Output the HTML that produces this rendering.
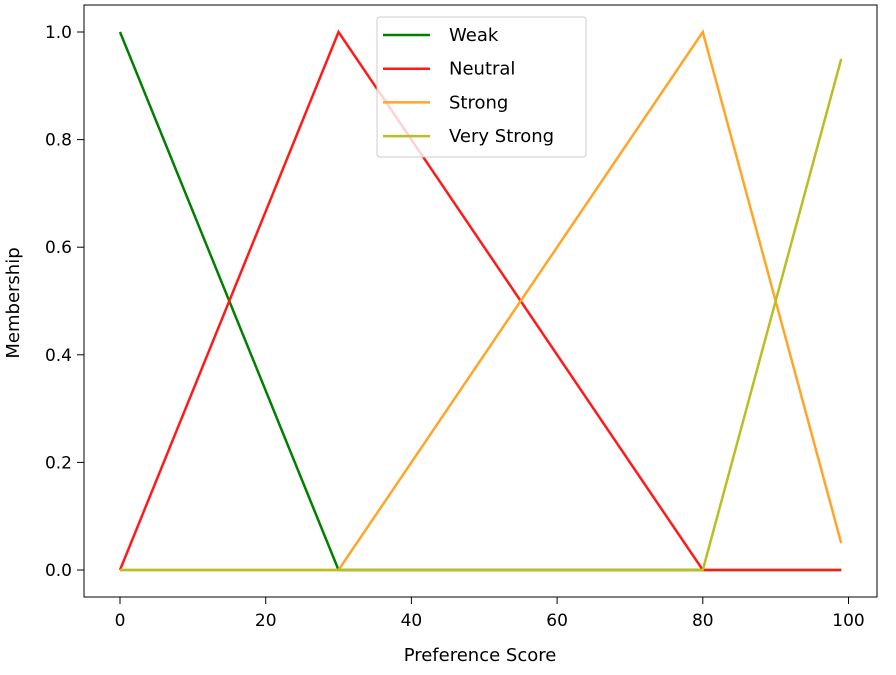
<!DOCTYPE html>
<html><head><meta charset="utf-8"><style>
body{margin:0;background:#fff;font-family:"Liberation Sans","DejaVu Sans",sans-serif}
svg text{font-family:"DejaVu Sans","Liberation Sans",sans-serif}
</style></head><body>
<svg id="chart" width="896" height="670">
<rect x="84" y="5" width="793" height="592" fill="none" stroke="#000" stroke-width="1"/>
<g id="ticks"></g>
<g id="lines"></g>
<text x="480" y="661" font-size="18" text-anchor="middle">Preference Score</text>
<text transform="translate(19,303) rotate(-90)" font-size="18" text-anchor="middle">Membership</text>
<g id="legend">
<rect x="377" y="17" width="209" height="140" rx="3" fill="#fff" fill-opacity="0.8" stroke="#ccc"/>
</g>
</svg>
<script>
const seriesNames=["Weak","Neutral","Strong","Very Strong"];
const seriesColors=["#008000","#ff1a1a","#ffa528","#bcbd22"];
const weakX=[0,30,99], weakY=[1,0,0];
const neutralX=[0,30,80,99], neutralY=[0,1,0,0];
const strongX=[0,30,80,99], strongY=[0,0,1,0.05];
const vstrongX=[0,80,99], vstrongY=[0,0,0.95];
const xTicks=[0,20,40,60,80,100];
const yTicks=[0,0.2,0.4,0.6,0.8,1.0];
const NS="http://www.w3.org/2000/svg";
function sx(v){return 120+v*7.285;}
function sy(v){return 570-v*538;}
const tg=document.getElementById('ticks');
xTicks.forEach(t=>{
  const l=document.createElementNS(NS,'line');
  l.setAttribute('x1',sx(t));l.setAttribute('x2',sx(t));l.setAttribute('y1',597);l.setAttribute('y2',604);l.setAttribute('stroke','#000');
  
  
  tg.appendChild(l);
  const tx=document.createElementNS(NS,'text');
  tx.setAttribute('x',sx(t));tx.setAttribute('y',626);tx.setAttribute('font-size','17');tx.setAttribute('text-anchor','middle');
  tx.textContent=t;
  
  
  tg.appendChild(tx);
});
yTicks.forEach(t=>{
  const l=document.createElementNS(NS,'line');
  l.setAttribute('x1',77);l.setAttribute('x2',84);l.setAttribute('y1',sy(t));l.setAttribute('y2',sy(t));l.setAttribute('stroke','#000');
  
  
  tg.appendChild(l);
  const tx=document.createElementNS(NS,'text');
  tx.setAttribute('x',72);tx.setAttribute('y',sy(t)+6);tx.setAttribute('font-size','17');tx.setAttribute('text-anchor','end');
  tx.textContent=t.toFixed(1);
  
  
  tg.appendChild(tx);
});
const data=[[weakX,weakY],[neutralX,neutralY],[strongX,strongY],[vstrongX,vstrongY]];
const lg=document.getElementById('lines');
data.forEach((d,i)=>{
  const p=document.createElementNS(NS,'polyline');
  p.setAttribute('points',d[0].map((x,j)=>sx(x)+','+sy(d[1][j])).join(' '));
  p.setAttribute('fill','none');p.setAttribute('stroke',seriesColors[i]);p.setAttribute('stroke-width','2.5');
  
  
  lg.appendChild(p);
});
const leg=document.getElementById('legend');
seriesNames.forEach((n,i)=>{
  const y=35+i*33.7;
  const l=document.createElementNS(NS,'line');
  l.setAttribute('x1',383);l.setAttribute('x2',430);l.setAttribute('y1',y);l.setAttribute('y2',y);
  l.setAttribute('stroke',seriesColors[i]);l.setAttribute('stroke-width','2.5');
  
  
  leg.appendChild(l);
  const t=document.createElementNS(NS,'text');
  t.setAttribute('x',449);t.setAttribute('y',y+6);t.setAttribute('font-size','18');
  t.textContent=n;
  
  
  leg.appendChild(t);
});
</script>
</body></html>
